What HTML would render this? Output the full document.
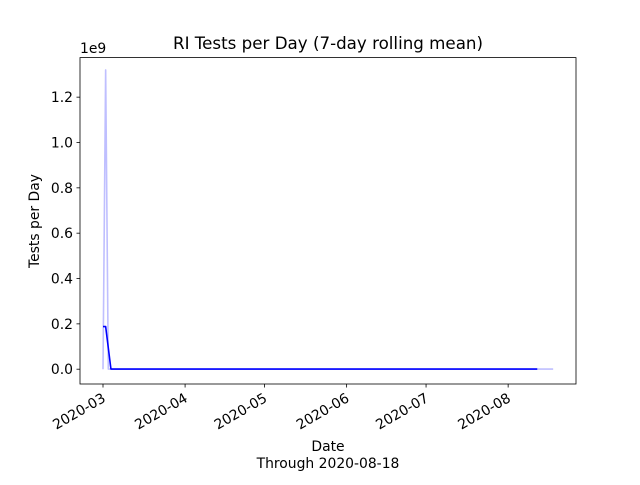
<!DOCTYPE html>
<html><head><meta charset="utf-8"><style>
body{margin:0;background:#fff;font-family:"Liberation Sans","DejaVu Sans",sans-serif}
svg text{font-family:"DejaVu Sans","Liberation Sans",sans-serif}
</style></head><body>
<svg id="c" width="640" height="480" xmlns="http://www.w3.org/2000/svg">
<rect width="640" height="480" fill="#fff"/>
<text x="328" y="49" font-size="16.7" text-anchor="middle">RI Tests per Day (7-day rolling mean)</text>
<text x="80" y="53" font-size="13.9">1e9</text>
<text x="39" y="221" font-size="13.9" text-anchor="middle" transform="rotate(-90 39 221)">Tests per Day</text>
<text x="328" y="451" font-size="13.9" text-anchor="middle">Date</text>
<text x="328" y="468" font-size="13.9" text-anchor="middle">Through 2020-08-18</text>
<g id="ticks"></g>
<g id="lines"></g>
<rect x="80" y="57.6" width="496" height="326.4" fill="none" stroke="#000" stroke-width="0.8"/>
</svg>
<script>
const rawDates=["2020-03-01","2020-03-02","2020-03-03","2020-03-10","2020-04-15","2020-06-01","2020-08-18"];
const rawValues=[0,1.32,0.0008,0.0005,0.0005,0.0005,0.0005];
const meanDates=["2020-03-01","2020-03-02","2020-03-04","2020-04-15","2020-06-01","2020-08-12"];
const meanValues=[0.188,0.188,0.0005,0.0005,0.0005,0.0005];
const yTicks=[0,0.2,0.4,0.6,0.8,1.0,1.2];
const xTicks=["2020-03","2020-04","2020-05","2020-06","2020-07","2020-08"];
const NS="http://www.w3.org/2000/svg";
const t0=Date.UTC(2020,2,1);
function X(d){const p=d.split("-");const t=Date.UTC(+p[0],+p[1]-1,p[2]?+p[2]:1);return 103+(t-t0)/86400000*2.648;}
function Y(v){return 369.2-v*226.7;}
const tg=document.getElementById("ticks");
yTicks.forEach(v=>{
 const l=document.createElementNS(NS,"line");
 
 
 l.setAttribute("x1",76.5);l.setAttribute("x2",80);l.setAttribute("y1",Y(v));l.setAttribute("y2",Y(v));l.setAttribute("stroke","#000");l.setAttribute("stroke-width","0.8");tg.appendChild(l);
 const t=document.createElementNS(NS,"text");
 
 
 t.setAttribute("x",73);t.setAttribute("y",Y(v)+5);t.setAttribute("font-size","13.9");t.setAttribute("text-anchor","end");t.textContent=v.toFixed(1);tg.appendChild(t);
});
xTicks.forEach(d=>{
 const x=X(d);
 const l=document.createElementNS(NS,"line");
 
 
 l.setAttribute("x1",x);l.setAttribute("x2",x);l.setAttribute("y1",384);l.setAttribute("y2",387.5);l.setAttribute("stroke","#000");l.setAttribute("stroke-width","0.8");tg.appendChild(l);
 const t=document.createElementNS(NS,"text");
 
 
 const tx=x-1,ty=402;
 t.setAttribute("x",tx);t.setAttribute("y",ty);t.setAttribute("font-size","13.9");t.setAttribute("text-anchor","end");t.setAttribute("transform","rotate(-30 "+tx+" "+(ty-9)+")");t.textContent=d;tg.appendChild(t);
});
const lg=document.getElementById("lines");
function line(ds,vs,col,name){
 const p=document.createElementNS(NS,"polyline");
 
 
 p.setAttribute("points",ds.map((d,i)=>X(d)+","+Y(vs[i])).join(" "));
 p.setAttribute("fill","none");p.setAttribute("stroke",col);p.setAttribute("stroke-width","1.6");p.setAttribute("stroke-linejoin","round");lg.appendChild(p);
}
line(rawDates,rawValues,"#bfbfff","raw-tests-line");
line(meanDates,meanValues,"#0000ff","rolling-mean-line");
</script>
</body></html>
